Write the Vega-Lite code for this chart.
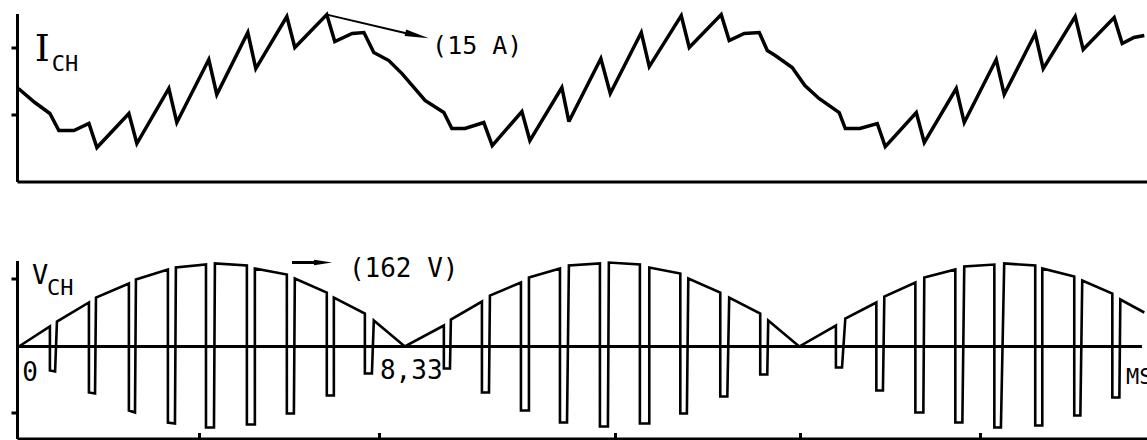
{
  "$schema": "https://vega.github.io/schema/vega-lite/v6.json",
  "padding": {"left": 9, "top": 8.5, "right": 0, "bottom": 0},
  "autosize": {"type": "pad"},
  "background": "white",
  "spacing": 74,
  "config": {
    "view": {"stroke": null},
    "font": "DejaVu Sans Mono",
    "axis": {"domainColor": "black", "tickColor": "black", "domainWidth": 3, "tickWidth": 3, "labels": false, "title": null, "grid": false}
  },
  "datasets": {
    "current": [
      {"t": 0.01, "i": 8.36}, {"t": 0.36, "i": 7.10}, {"t": 0.68, "i": 6.11}, {"t": 0.87, "i": 4.58},
      {"t": 1.19, "i": 4.58}, {"t": 1.51, "i": 5.21}, {"t": 1.68, "i": 3.05}, {"t": 2.36, "i": 6.11},
      {"t": 2.53, "i": 3.41}, {"t": 3.21, "i": 8.36}, {"t": 3.38, "i": 5.30}, {"t": 4.06, "i": 10.96},
      {"t": 4.23, "i": 7.82}, {"t": 4.89, "i": 13.39}, {"t": 5.06, "i": 10.15}, {"t": 5.72, "i": 14.82},
      {"t": 5.89, "i": 12.04}, {"t": 6.57, "i": 15.0}, {"t": 6.74, "i": 12.58}, {"t": 7.11, "i": 13.30},
      {"t": 7.36, "i": 13.39}, {"t": 7.57, "i": 11.59}, {"t": 7.89, "i": 10.87}, {"t": 8.17, "i": 9.70},
      {"t": 8.66, "i": 7.28}, {"t": 9.06, "i": 6.20}, {"t": 9.23, "i": 4.76}, {"t": 9.51, "i": 4.76},
      {"t": 9.91, "i": 5.30}, {"t": 10.09, "i": 3.23}, {"t": 10.72, "i": 6.29}, {"t": 10.89, "i": 3.68},
      {"t": 11.57, "i": 8.45}, {"t": 11.72, "i": 5.39}, {"t": 12.40, "i": 11.05}, {"t": 12.60, "i": 7.91},
      {"t": 13.26, "i": 13.39}, {"t": 13.43, "i": 10.33}, {"t": 14.11, "i": 14.91}, {"t": 14.28, "i": 12.04},
      {"t": 14.96, "i": 15.0}, {"t": 15.13, "i": 12.67}, {"t": 15.45, "i": 13.30}, {"t": 15.77, "i": 13.39},
      {"t": 15.94, "i": 11.77}, {"t": 16.11, "i": 11.32}, {"t": 16.47, "i": 10.24}, {"t": 16.74, "i": 8.63},
      {"t": 17.04, "i": 7.46}, {"t": 17.47, "i": 6.20}, {"t": 17.60, "i": 4.76}, {"t": 17.91, "i": 4.76},
      {"t": 18.28, "i": 5.21}, {"t": 18.45, "i": 3.14}, {"t": 19.11, "i": 6.20}, {"t": 19.28, "i": 3.50},
      {"t": 19.96, "i": 8.36}, {"t": 20.13, "i": 5.30}, {"t": 20.81, "i": 10.96}, {"t": 20.98, "i": 7.82},
      {"t": 21.64, "i": 13.30}, {"t": 21.81, "i": 10.15}, {"t": 22.49, "i": 14.82}, {"t": 22.66, "i": 11.86},
      {"t": 23.32, "i": 14.73}, {"t": 23.49, "i": 12.40}, {"t": 23.74, "i": 12.94}, {"t": 23.96, "i": 13.12}
    ],
    "voltage": [
      {"t": 0.02, "v": 0},
      {"t": 0.68, "v": 38.6}, {"t": 0.68, "v": -46.3}, {"t": 0.79, "v": -48.2}, {"t": 0.83, "v": 48.2},
      {"t": 1.51, "v": 84.9}, {"t": 1.51, "v": -88.7}, {"t": 1.64, "v": -90.6}, {"t": 1.66, "v": 94.5},
      {"t": 2.36, "v": 121.5}, {"t": 2.36, "v": -123.4}, {"t": 2.49, "v": -127.3}, {"t": 2.51, "v": 129.2},
      {"t": 3.19, "v": 148.5}, {"t": 3.19, "v": -146.6}, {"t": 3.34, "v": -148.5}, {"t": 3.36, "v": 152.4},
      {"t": 4.00, "v": 158.1}, {"t": 4.00, "v": -156.2}, {"t": 4.17, "v": -156.2}, {"t": 4.19, "v": 160.1},
      {"t": 4.87, "v": 156.2}, {"t": 4.87, "v": -150.4}, {"t": 5.04, "v": -150.4}, {"t": 5.04, "v": 150.4},
      {"t": 5.72, "v": 138.9}, {"t": 5.72, "v": -129.2}, {"t": 5.87, "v": -129.2}, {"t": 5.89, "v": 131.1},
      {"t": 6.57, "v": 104.1}, {"t": 6.57, "v": -94.5}, {"t": 6.72, "v": -94.5}, {"t": 6.72, "v": 94.5},
      {"t": 7.38, "v": 63.6}, {"t": 7.38, "v": -52.1}, {"t": 7.53, "v": -52.1}, {"t": 7.57, "v": 50.1},
      {"t": 8.23, "v": 0},
      {"t": 9.06, "v": 40.5}, {"t": 9.06, "v": -42.4}, {"t": 9.19, "v": -42.4}, {"t": 9.21, "v": 52.1},
      {"t": 9.87, "v": 86.8}, {"t": 9.87, "v": -88.7}, {"t": 10.02, "v": -88.7}, {"t": 10.04, "v": 98.4},
      {"t": 10.70, "v": 123.4}, {"t": 10.70, "v": -123.4}, {"t": 10.87, "v": -123.4}, {"t": 10.87, "v": 133.1},
      {"t": 11.53, "v": 150.4}, {"t": 11.53, "v": -146.6}, {"t": 11.68, "v": -146.6}, {"t": 11.72, "v": 156.2},
      {"t": 12.38, "v": 160.1}, {"t": 12.38, "v": -154.3}, {"t": 12.55, "v": -154.3}, {"t": 12.57, "v": 162.0},
      {"t": 13.23, "v": 158.1}, {"t": 13.23, "v": -148.5}, {"t": 13.43, "v": -148.5}, {"t": 13.43, "v": 152.4},
      {"t": 14.09, "v": 140.8}, {"t": 14.09, "v": -129.2}, {"t": 14.23, "v": -129.2}, {"t": 14.26, "v": 131.1},
      {"t": 14.94, "v": 104.1}, {"t": 14.94, "v": -96.4}, {"t": 15.09, "v": -96.4}, {"t": 15.13, "v": 94.5},
      {"t": 15.79, "v": 63.6}, {"t": 15.79, "v": -54.0}, {"t": 15.94, "v": -54.0}, {"t": 15.96, "v": 50.1},
      {"t": 16.62, "v": 0},
      {"t": 17.40, "v": 40.5}, {"t": 17.40, "v": -40.5}, {"t": 17.53, "v": -40.5}, {"t": 17.60, "v": 54.0},
      {"t": 18.26, "v": 84.9}, {"t": 18.26, "v": -84.9}, {"t": 18.40, "v": -84.9}, {"t": 18.43, "v": 96.4},
      {"t": 19.09, "v": 123.4}, {"t": 19.09, "v": -127.3}, {"t": 19.26, "v": -127.3}, {"t": 19.28, "v": 133.1},
      {"t": 19.94, "v": 148.5}, {"t": 19.94, "v": -146.6}, {"t": 20.09, "v": -146.6}, {"t": 20.13, "v": 154.3},
      {"t": 20.77, "v": 158.1}, {"t": 20.77, "v": -156.2}, {"t": 20.91, "v": -156.2}, {"t": 20.98, "v": 160.1},
      {"t": 21.64, "v": 156.2}, {"t": 21.64, "v": -152.4}, {"t": 21.79, "v": -152.4}, {"t": 21.79, "v": 150.4},
      {"t": 22.47, "v": 135.0}, {"t": 22.47, "v": -133.1}, {"t": 22.60, "v": -133.1}, {"t": 22.64, "v": 127.3},
      {"t": 23.28, "v": 102.2}, {"t": 23.28, "v": -98.4}, {"t": 23.43, "v": -98.4}, {"t": 23.45, "v": 90.6},
      {"t": 23.96, "v": 65.6}
    ]
  },
  "vconcat": [
    {
      "width": 1132,
      "height": 168,
      "encoding": {
        "x": {"field": "t", "type": "quantitative", "scale": {"domain": [-0.02, 24.06], "nice": false, "zero": false},
              "axis": {"orient": "bottom", "domain": true, "ticks": false, "labels": false, "title": null}},
        "y": {"field": "i", "type": "quantitative", "scale": {"domain": [0, 15.1], "nice": false, "zero": false},
              "axis": {"values": [6, 12], "tickSize": 6, "labels": false, "title": null}}
      },
      "layer": [
        {
          "data": {"name": "current"},
          "mark": {"type": "line", "color": "black", "strokeWidth": 3.5, "strokeMiterLimit": 3},
          "encoding": {"order": {"value": null}}
        },
        {
          "data": {"values": [{"t": 6.57, "i": 15.0}, {"t": 8.28, "i": 13.30}]},
          "mark": {"type": "line", "color": "black", "strokeWidth": 2},
          "encoding": {}
        },
        {
          "data": {"values": [{"t": 8.49, "i": 13.12}]},
          "mark": {"type": "point", "shape": "M-1,-0.28L1,0L-1,0.28Z", "filled": true, "color": "black", "opacity": 1, "size": 576, "angle": 13},
          "encoding": {}
        },
        {
          "data": {"values": [{"t": 0.36, "i": 10.87, "label": "I"}]},
          "mark": {"type": "text", "align": "left", "baseline": "alphabetic", "fontSize": 38, "font": "DejaVu Serif", "color": "black"},
          "encoding": {"text": {"field": "label"}}
        },
        {
          "data": {"values": [{"t": 0.72, "i": 9.97, "label": "CH"}]},
          "mark": {"type": "text", "align": "left", "baseline": "alphabetic", "fontSize": 22, "color": "black"},
          "encoding": {"text": {"field": "label"}}
        },
        {
          "data": {"values": [{"t": 8.81, "i": 11.5, "label": "(15 A)"}]},
          "mark": {"type": "text", "align": "left", "baseline": "alphabetic", "fontSize": 25, "color": "black"},
          "encoding": {"text": {"field": "label"}}
        }
      ]
    },
    {
      "width": 1132,
      "height": 178,
      "encoding": {
        "x": {"field": "t", "type": "quantitative", "scale": {"domain": [-0.02, 24.06], "nice": false, "zero": false},
              "axis": {"orient": "bottom", "values": [3.85, 7.68, 12.70, 16.64, 20.47], "tickSize": -6, "domain": true, "labels": false, "title": null}},
        "y": {"field": "v", "type": "quantitative", "scale": {"domain": [-177.4, 165.9], "nice": false, "zero": false},
              "axis": {"values": [-127, 131], "tickSize": 6, "labels": false, "title": null}}
      },
      "layer": [
        {
          "data": {"values": [{"t": -0.02, "v": 0}, {"t": 23.91, "v": 0}]},
          "mark": {"type": "line", "color": "black", "strokeWidth": 3},
          "encoding": {}
        },
        {
          "data": {"name": "voltage"},
          "mark": {"type": "line", "color": "black", "strokeWidth": 2.6, "strokeMiterLimit": 3},
          "encoding": {"order": {"value": null}}
        },
        {
          "data": {"values": [{"t": 5.83, "v": 162}, {"t": 6.30, "v": 162}]},
          "mark": {"type": "line", "color": "black", "strokeWidth": 3},
          "encoding": {}
        },
        {
          "data": {"values": [{"t": 6.49, "v": 162}]},
          "mark": {"type": "point", "shape": "M-1,-0.3L1,0L-1,0.3Z", "filled": true, "color": "black", "opacity": 1, "size": 324},
          "encoding": {}
        },
        {
          "data": {"values": [{"t": 0.30, "v": 121.5, "label": "V"}]},
          "mark": {"type": "text", "align": "left", "baseline": "alphabetic", "fontSize": 27, "color": "black"},
          "encoding": {"text": {"field": "label"}}
        },
        {
          "data": {"values": [{"t": 0.62, "v": 98.4, "label": "CH"}]},
          "mark": {"type": "text", "align": "left", "baseline": "alphabetic", "fontSize": 22, "color": "black"},
          "encoding": {"text": {"field": "label"}}
        },
        {
          "data": {"values": [{"t": 7.04, "v": 135, "label": "(162 V)"}, {"t": 0.09, "v": -66, "label": "0"}, {"t": 7.70, "v": -61.7, "label": "8,33"}]},
          "mark": {"type": "text", "align": "left", "baseline": "alphabetic", "fontSize": 26, "color": "black"},
          "encoding": {"text": {"field": "label"}}
        },
        {
          "data": {"values": [{"t": 23.57, "v": -71.4, "label": "MS"}]},
          "mark": {"type": "text", "align": "left", "baseline": "alphabetic", "fontSize": 22, "color": "black"},
          "encoding": {"text": {"field": "label"}}
        }
      ]
    }
  ]
}
